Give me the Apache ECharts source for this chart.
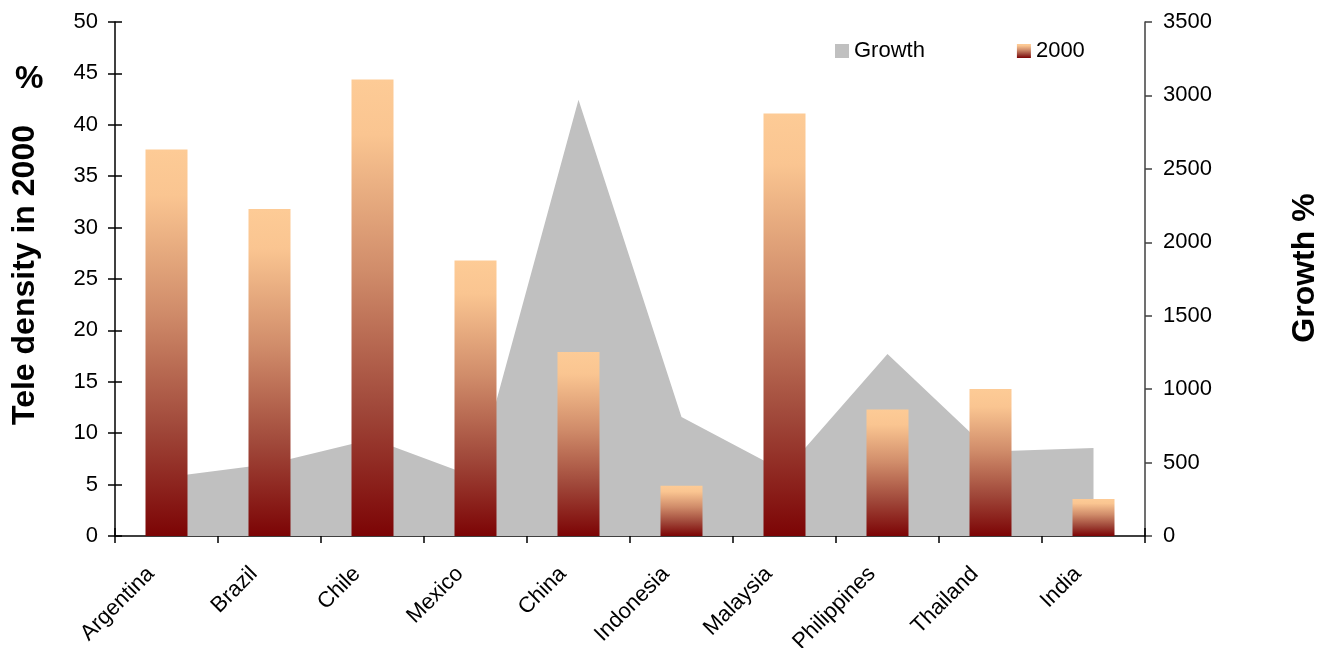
<!DOCTYPE html>
<html>
<head>
<meta charset="utf-8">
<script src="https://cdn.jsdelivr.net/npm/echarts@6/dist/echarts.min.js"></script>
<style>
  html, body { margin: 0; padding: 0; background: #ffffff; }
  #chart { width: 1325px; height: 648px; }
</style>
</head>
<body>
<div id="chart"></div>
<script>
// Countries on the category axis
const countries = ['Argentina', 'Brazil', 'Chile', 'Mexico', 'China', 'Indonesia', 'Malaysia', 'Philippines', 'Thailand', 'India'];
// Tele density in 2000 (%), left axis
const density2000 = [37.6, 31.8, 44.4, 26.8, 17.9, 4.9, 41.1, 12.3, 14.3, 3.6];
// Growth (%), right axis
const growth = [400, 490, 660, 400, 2970, 810, 440, 1240, 575, 600];

const FONT = 'Liberation Sans, Arial, sans-serif';
const TICK_FONT = 22;
const TITLE_FONT = 32;

const barGradient = new echarts.graphic.LinearGradient(0, 0, 0, 1, [
  { offset: 0, color: '#FDCB96' },
  { offset: 0.12, color: '#FAC591' },
  { offset: 0.42, color: '#D08C6A' },
  { offset: 0.72, color: '#A0483A' },
  { offset: 1, color: '#7C0405' }
]);

const chart = echarts.init(document.getElementById('chart'), null, { renderer: 'canvas' });

chart.setOption({
  backgroundColor: '#ffffff',
  animation: false,
  textStyle: { fontFamily: FONT },
  grid: { left: 115, right: 180, top: 22, bottom: 112, containLabel: false, outerBoundsMode: 'none' },
  legend: {
    left: 830, top: 35,
    itemWidth: 14, itemHeight: 14, itemGap: 92,
    icon: 'rect',
    textStyle: { fontSize: TICK_FONT, color: '#000', fontFamily: FONT },
    data: ['Growth', '2000']
  },
  graphic: [{
    type: 'text', left: 15, top: 63,
    style: { text: '%', fontSize: TITLE_FONT, fontWeight: 'bold', fill: '#000', fontFamily: FONT }
  }, {
    type: 'text', x: 25, y: 275, rotation: Math.PI / 2,
    style: { text: 'Tele density in 2000', fontSize: TITLE_FONT, fontWeight: 'bold', fill: '#000',
             fontFamily: FONT, align: 'center', verticalAlign: 'middle' }
  }, {
    type: 'text', x: 1305, y: 268, rotation: Math.PI / 2,
    style: { text: 'Growth %', fontSize: TITLE_FONT, fontWeight: 'bold', fill: '#000',
             fontFamily: FONT, align: 'center', verticalAlign: 'middle' }
  }],
  xAxis: [{
    type: 'category', data: countries, position: 'bottom', boundaryGap: true,
    axisLine: { lineStyle: { color: '#000', width: 1.5 } },
    axisTick: { show: true, alignWithLabel: false, inside: false, length: 7, lineStyle: { color: '#000', width: 1.5 } },
    axisLabel: { rotate: 45, fontSize: TICK_FONT, color: '#000', margin: 19, fontFamily: FONT,
                 interval: 0, padding: [0, 22, 0, 0] },
    splitLine: { show: false }
  }, {
    type: 'category', data: countries, position: 'bottom', boundaryGap: true,
    axisLine: { show: false },
    axisTick: { show: true, inside: true, length: 8, lineStyle: { color: '#000', width: 1.5 } },
    axisLabel: { show: false },
    splitLine: { show: false }
  }],
  yAxis: [{
    type: 'value', position: 'left', min: 0, max: 50, interval: 5,
    axisLine: { show: true, lineStyle: { color: '#000', width: 1.5 } },
    axisTick: { show: true, inside: false, length: 7, lineStyle: { color: '#000', width: 1.5 } },
    axisLabel: { fontSize: TICK_FONT, color: '#000', margin: 17, fontFamily: FONT },
    splitLine: { show: false }
  }, {
    type: 'value', position: 'right', min: 0, max: 3500, interval: 500,
    axisLine: { show: true, lineStyle: { color: '#404040', width: 1.5 } },
    axisTick: { show: true, inside: false, length: 7, lineStyle: { color: '#404040', width: 1.5 } },
    axisLabel: { fontSize: TICK_FONT, color: '#000', margin: 18, fontFamily: FONT,
                 formatter: (v) => String(v) },
    splitLine: { show: false }
  }, {
    type: 'value', position: 'left', min: 0, max: 50, interval: 5,
    axisLine: { show: false },
    axisTick: { show: true, inside: true, length: 7, lineStyle: { color: '#000', width: 1.5 } },
    axisLabel: { show: false },
    splitLine: { show: false }
  }],
  series: [{
    name: 'Growth', type: 'line', data: growth, yAxisIndex: 1, xAxisIndex: 0,
    symbol: 'none', z: 1,
    lineStyle: { width: 0, color: '#C0C0C0' },
    itemStyle: { color: '#C0C0C0' },
    areaStyle: { color: '#C0C0C0', opacity: 1 }
  }, {
    name: '2000', type: 'bar', data: density2000, yAxisIndex: 0, xAxisIndex: 0,
    barWidth: 42, z: 2,
    itemStyle: { color: barGradient }
  }]
});
</script>
</body>
</html>
